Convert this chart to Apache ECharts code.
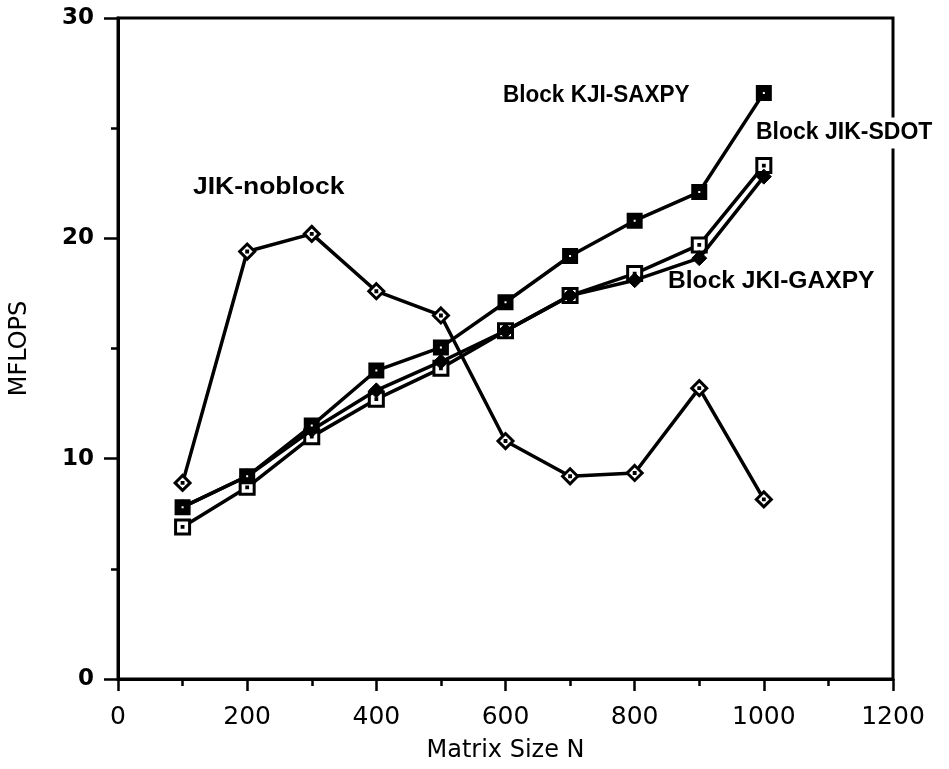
<!DOCTYPE html>
<html>
<head>
<meta charset="utf-8">
<script src="https://cdn.jsdelivr.net/npm/echarts@6/dist/echarts.min.js"></script>
<style>
html,body{margin:0;padding:0;background:#fff;}
#chart{width:949px;height:769px;}
</style>
</head>
<body>
<div id="chart"></div>
<script>
// ---- data ----
const matrixSize = [100, 200, 300, 400, 500, 600, 700, 800, 900, 1000];
const jikNoblock = [8.9, 19.4, 20.2, 17.6, 16.5, 10.8, 9.2, 9.35, 13.2, 8.15];
const kjiSaxpy   = [7.8, 9.2, 11.5, 14.0, 15.05, 17.1, 19.2, 20.8, 22.1, 26.6];
const jikSdot    = [6.9, 8.7, 11.0, 12.7, 14.1, 15.8, 17.4, 18.4, 19.7, 23.3];
const jkiGaxpy   = [7.8, 9.2, 11.3, 13.1, 14.4, 15.8, 17.4, 18.1, 19.1, 22.8];
const seriesNames = ['JIK-noblock', 'Block KJI-SAXPY', 'Block JIK-SDOT', 'Block JKI-GAXPY'];
const xTicks = [0, 200, 400, 600, 800, 1000, 1200];
const yTicks = [0, 10, 20, 30];

function pairs(vals) { return matrixSize.map((n, i) => [n, vals[i]]); }

const chart = echarts.init(document.getElementById('chart'), null, {renderer: 'canvas'});

const diamondDot = 'path://M7 0 L14 7 L7 14 L0 7 Z M6.6 6.6 L7.4 6.6 L7.4 7.4 L6.6 7.4 Z';
const squareDot = 'path://M0 0 L14 0 L14 14 L0 14 Z M6.6 6.6 L7.4 6.6 L7.4 7.4 L6.6 7.4 Z';

const lineStyle = {color: '#000', width: 3.5};
const annFont = 'bold 23px "Liberation Sans", Arial, sans-serif';

const option = {
  animation: false,
  backgroundColor: '#fff',
  grid: {left: 118, right: 56, top: 18, bottom: 90, show: true, borderColor: '#000', borderWidth: 3},
  xAxis: {
    type: 'value', min: 0, max: 1200, interval: 200,
    name: 'Matrix Size N', nameLocation: 'middle', nameGap: 60,
    nameTextStyle: {fontFamily: 'DejaVu Sans', fontSize: 24, color: '#000'},
    axisLine: {show: true, lineStyle: {color: '#000', width: 3}},
    axisTick: {show: true, length: 12, lineStyle: {color: '#000', width: 2.5}},
    minorTick: {show: true, splitNumber: 2, length: 7, lineStyle: {color: '#000', width: 2.5}},
    axisLabel: {margin: 26, fontFamily: 'DejaVu Sans', fontSize: 25, color: '#000',
      formatter: v => xTicks.includes(v) ? String(v) : ''},
    splitLine: {show: false}
  },
  yAxis: {
    type: 'value', min: 0, max: 30, interval: 10,
    name: 'MFLOPS', nameLocation: 'middle', nameGap: 86,
    nameTextStyle: {fontFamily: 'DejaVu Sans', fontSize: 24, color: '#000'},
    axisLine: {show: true, lineStyle: {color: '#000', width: 3}},
    axisTick: {show: true, length: 14, lineStyle: {color: '#000', width: 2.5}},
    minorTick: {show: true, splitNumber: 2, length: 7, lineStyle: {color: '#000', width: 2.5}},
    axisLabel: {margin: 24, fontFamily: 'DejaVu Sans', fontWeight: 'bold', fontSize: 23, color: '#000',
      formatter: v => yTicks.includes(v) ? String(v) : ''},
    splitLine: {show: false}
  },
  series: [
    {name: seriesNames[0], type: 'line', data: pairs(jikNoblock), symbol: diamondDot, symbolSize: 15,
     lineStyle: lineStyle, itemStyle: {color: '#fff', borderColor: '#000', borderWidth: 3}, z: 3},
    {name: seriesNames[2], type: 'line', data: pairs(jikSdot), symbol: squareDot, symbolSize: 14,
     lineStyle: lineStyle, itemStyle: {color: '#fff', borderColor: '#000', borderWidth: 3}, z: 4},
    {name: seriesNames[3], type: 'line', data: pairs(jkiGaxpy), symbol: 'diamond', symbolSize: 15,
     lineStyle: lineStyle, itemStyle: {color: '#000', borderColor: '#000', borderWidth: 1}, z: 5},
    {name: seriesNames[1], type: 'line', data: pairs(kjiSaxpy), symbol: 'rect', symbolSize: 9,
     lineStyle: lineStyle, itemStyle: {color: '#fff', borderColor: '#000', borderWidth: 7}, z: 6}
  ],
  graphic: [
    {type: 'text', x: 193, y: 188, scaleX: 1.15, z: 100,
     style: {text: 'JIK-noblock', font: annFont, fill: '#000', textAlign: 'left', textVerticalAlign: 'middle'}},
    {type: 'text', x: 503, y: 96, scaleX: 0.98, z: 100,
     style: {text: 'Block KJI-SAXPY', font: annFont, fill: '#000', textAlign: 'left', textVerticalAlign: 'middle'}},
    {type: 'text', x: 754, y: 133, scaleX: 1.0, z: 100,
     style: {text: 'Block JIK-SDOT', font: annFont, fill: '#000', textAlign: 'left', textVerticalAlign: 'middle',
             backgroundColor: '#fff', padding: [4, 2, 4, 2]}},
    {type: 'text', x: 668, y: 282, scaleX: 1.07, z: 100,
     style: {text: 'Block JKI-GAXPY', font: annFont, fill: '#000', textAlign: 'left', textVerticalAlign: 'middle'}}
  ]
};
chart.setOption(option);
</script>
</body>
</html>
